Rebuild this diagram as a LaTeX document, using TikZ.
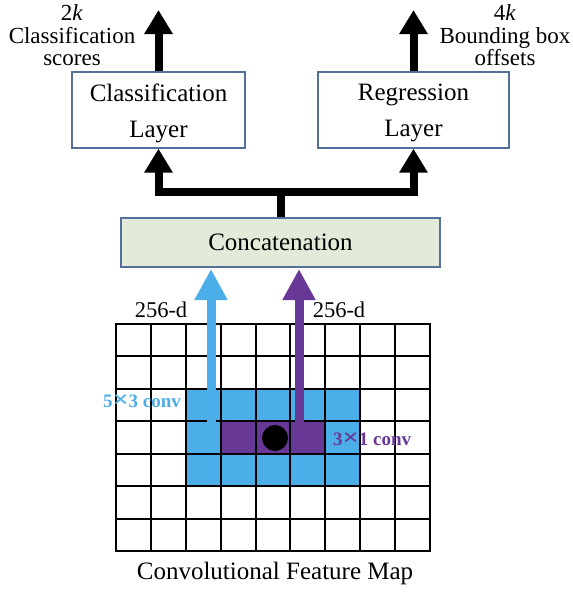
\documentclass[tikz,border=0pt]{standalone}
\usepackage{fontspec}
\setmainfont{Liberation Serif}
\usetikzlibrary{arrows.meta}
\definecolor{cblue}{RGB}{76,174,232}
\definecolor{cpurple}{RGB}{104,56,150}
\definecolor{cgreen}{RGB}{226,235,217}
\definecolor{cedge}{RGB}{84,112,152}
\tikzset{
  layerbox/.style={draw=cedge, line width=1.3pt, fill=white, minimum width=173pt, minimum height=76pt, inner sep=0pt},
  boxtext/.style={align=center, inner sep=0pt, font=\fontsize{25}{36}\selectfont},
  blk/.style={line width=8pt, -{Triangle[width=27pt,length=24pt]}},
  fatblue/.style={draw=cblue, line width=9pt, -{Triangle[width=31pt,length=31pt]}},
  fatpurple/.style={draw=cpurple, line width=9pt, -{Triangle[width=31pt,length=31pt]}},
  lbl/.style={align=center, inner sep=0pt, font=\fontsize{23}{22.5}\selectfont},
  gridline/.style={line width=2pt, line cap=rect}
}
\begin{document}
\begin{tikzpicture}[x=1pt,y=-1pt]
\useasboundingbox (0,0) rectangle (573,592);
% feature map regions
\fill[cblue] (185.8,388.9) rectangle (360.2,486.1);
\fill[cpurple] (220.7,421.3) rectangle (325.3,453.7);
\foreach \i in {0,...,9} {
  \draw[gridline] ({116+\i*34.889},324) -- ({116+\i*34.889},551);
}
\foreach \j in {0,...,7} {
  \draw[gridline] (116,{324+\j*32.429}) -- (430,{324+\j*32.429});
}
\node[circle, fill=black, minimum size=26pt, inner sep=0pt] (dot) at (275,438) {};
% boxes
\node[layerbox] (cls) at (158.5,110) {};
\node[boxtext] (clsT) at (158.5,113) {Classification\\Layer};
\node[layerbox, minimum width=191pt] (reg) at (413.5,110) {};
\node[boxtext] (regT) at (413.5,113) {Regression\\Layer};
\node[draw=cedge, line width=1.3pt, fill=cgreen, minimum width=319pt, minimum height=49pt, inner sep=0pt, font=\fontsize{25}{30}\selectfont] (concat) at (280.5,242.5) {Concatenation};
% black connectors
\coordinate (j) at (280.5,192);
\draw[blk] (concat.north) -- (j) -| (cls.south);
\draw[blk] (j) -| (reg.south);
\coordinate (o1) at (158.5,10);
\coordinate (o2) at (413.5,10);
\draw[blk] (cls.north) -- (o1);
\draw[blk] (reg.north) -- (o2);
% coloured arrows
\coordinate (bs) at (211,428);
\coordinate (bt) at (211,269);
\coordinate (ps) at (299,428);
\coordinate (pt) at (299,269);
\draw[fatblue] (bs) -- (bt);
\draw[fatpurple] (ps) -- (pt);
% labels
\node[lbl] (l1) at (72,35.5) {2\textit{k}\\Classification\\scores};
\node[lbl] (l2) at (505,35.5) {4\textit{k}\\Bounding box\\offsets};
\node[lbl, font=\fontsize{22.5}{22.5}\selectfont] (d1) at (161,310) {256-d};
\node[lbl, font=\fontsize{22.5}{22.5}\selectfont] (d2) at (339,310) {256-d};
\node[lbl, text=cblue, font=\fontsize{19}{19}\selectfont\bfseries] (c1) at (142,401) {5\scalebox{1.5}[1.25]{×}3 conv};
\node[lbl, text=cpurple, font=\fontsize{19}{19}\selectfont\bfseries, anchor=west] (c2) at (333,439) {3\scalebox{1.5}[1.25]{×}1 conv};
\node[lbl, font=\fontsize{25}{25}\selectfont] (fm) at (275,573) {Convolutional Feature Map};
\end{tikzpicture}
\end{document}
